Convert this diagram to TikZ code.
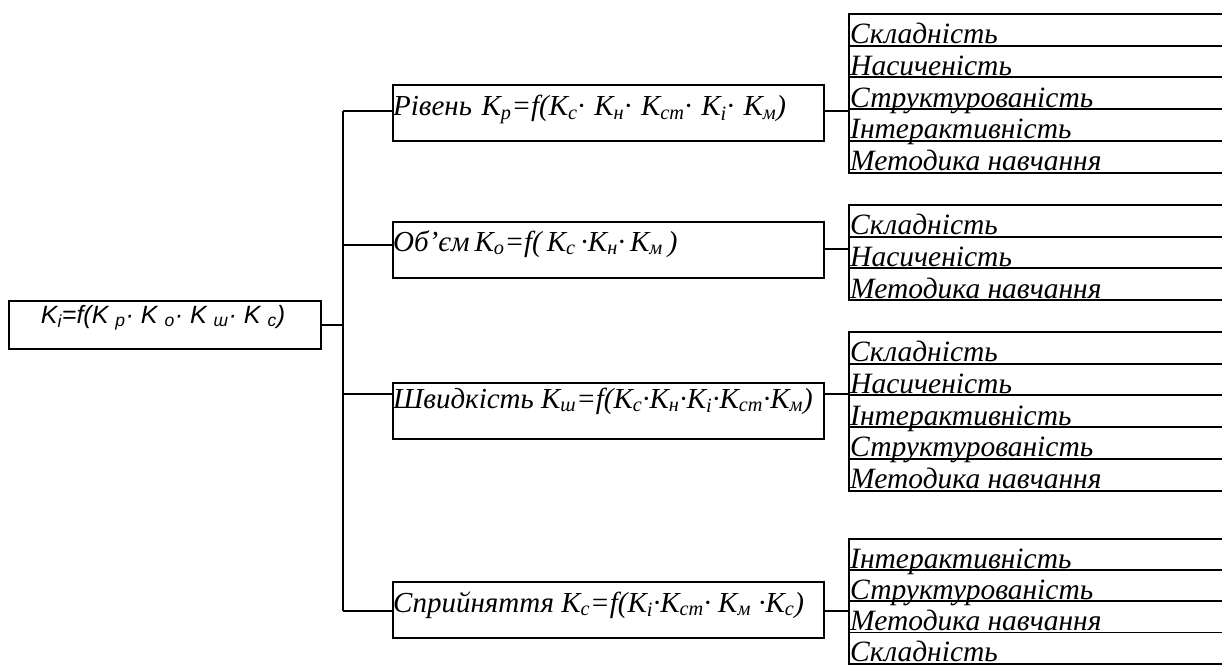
\documentclass[tikz,border=0pt]{standalone}
\usepackage{fontspec}
\setmainfont{Liberation Serif}
\newfontfamily\arialfont{Liberation Sans}
\newcommand{\sbs}[1]{\textsubscript{#1}}
\newcommand{\wsp}{\hspace{9.5pt}}
\newcommand{\nsp}{\hspace{5pt}}
\tikzset{
  conn/.style={line width=1.8pt},
  boxnode/.style={draw, line width=1.8pt, rectangle, inner sep=0pt, anchor=north west,
    minimum width=431pt, minimum height=56pt},
  mainbox/.style={draw, line width=1.8pt, rectangle, inner sep=0pt, anchor=north west,
    minimum width=312pt, minimum height=48pt},
  boxtext/.style={anchor=base west, inner sep=0pt, font=\fontsize{29}{33}\selectfont\itshape},
  maintext/.style={anchor=base, inner sep=0pt, font=\arialfont\fontsize{25}{29}\selectfont\itshape},
  cell/.style={draw, line width=1.8pt, rectangle, inner sep=0pt, anchor=north west,
    minimum width=420pt, minimum height=31.6pt},
  lastcell/.style={cell, minimum height=31.2pt},
  celltext/.style={anchor=base west, inner sep=0pt, font=\fontsize{29.5}{33}\selectfont\itshape}
}
\begin{document}
\begin{tikzpicture}[x=1pt,y=-1pt]
\useasboundingbox (0,0) rectangle (1222,666);
% main box
\node[mainbox] (main) at (8,300) {};
\node[maintext] (maint) at (163,323) {K\sbs{i}=f(K \sbs{p}· K \sbs{o}· K \sbs{ш}· K \sbs{c})};
% second level boxes
\node[boxnode] (b1) at (392,84) {};
\node[boxnode] (b2) at (392,221) {};
\node[boxnode] (b3) at (392,382) {};
\node[boxnode] (b4) at (392,581) {};
\node[boxtext] (t1) at (393,116) {Рівень\wsp K\sbs{р}=f(K\sbs{с}·\wsp K\sbs{н}·\wsp K\sbs{ст}·\wsp K\sbs{і}·\wsp K\sbs{м})};
\node[boxtext] (t2) at (393,251) {Об’єм\nsp K\sbs{о}=f(\nsp K\sbs{с}\nsp ·K\sbs{н}·\nsp K\sbs{м}\nsp )};
\node[boxtext] (t3) at (393,408) {Швидкість K\sbs{ш}=f(K\sbs{с}·K\sbs{н}·K\sbs{і}·K\sbs{ст}·K\sbs{м})};
\node[boxtext] (t4) at (393,612) {Сприйняття K\sbs{с}=f(K\sbs{і}·K\sbs{ст}· K\sbs{м} ·K\sbs{с})};
% lists
\foreach \t [count=\i] in {Складність,Насиченість,Структурованість,Інтерактивність,Методика навчання}{
  \node[cell] (l1-\i) at (848,{13+(\i-1)*31.8}) {};
  \node[celltext] at ([xshift=2pt,yshift=3pt]l1-\i.south west) {\t};
}
\foreach \t [count=\i] in {Складність,Насиченість,Методика навчання}{
  \node[cell] (l2-\i) at (848,{204+(\i-1)*31.8}) {};
  \node[celltext] at ([xshift=2pt,yshift=3pt]l2-\i.south west) {\t};
}
\foreach \t [count=\i] in {Складність,Насиченість,Інтерактивність,Структурованість,Методика навчання}{
  \node[cell] (l3-\i) at (848,{331+(\i-1)*31.8}) {};
  \node[celltext] at ([xshift=2pt,yshift=3pt]l3-\i.south west) {\t};
}
\foreach \t [count=\i] in {Інтерактивність,Структурованість,Методика навчання,Складність}{
  \node[lastcell] (l4-\i) at (848,{538+(\i-1)*31.2}) {};
  \node[celltext] at ([xshift=2pt,yshift=3pt]l4-\i.south west) {\t};
}
% connector levels
\coordinate (j1) at (343,111);
\coordinate (j2) at (343,245);
\coordinate (j3) at (343,394);
\coordinate (j4) at (343,611);
\coordinate (r1) at (835,111);
\coordinate (r2) at (835,249);
\coordinate (r3) at (835,394);
\coordinate (r4) at (835,611);
\draw[conn] (j1) -- (j4);
\draw[conn] (main.east) -- (main.east -| j1);
\draw[conn] (j1) -- (j1 -| b1.west);
\draw[conn] (j2) -- (j2 -| b2.west);
\draw[conn] (j3) -- (j3 -| b3.west);
\draw[conn] (j4) -- (j4 -| b4.west);
\draw[conn] (r1 -| b1.east) -- (r1 -| l1-1.west);
\draw[conn] (r2 -| b2.east) -- (r2 -| l2-1.west);
\draw[conn] (r3 -| b3.east) -- (r3 -| l3-1.west);
\draw[conn] (r4 -| b4.east) -- (r4 -| l4-1.west);
\end{tikzpicture}
\end{document}
